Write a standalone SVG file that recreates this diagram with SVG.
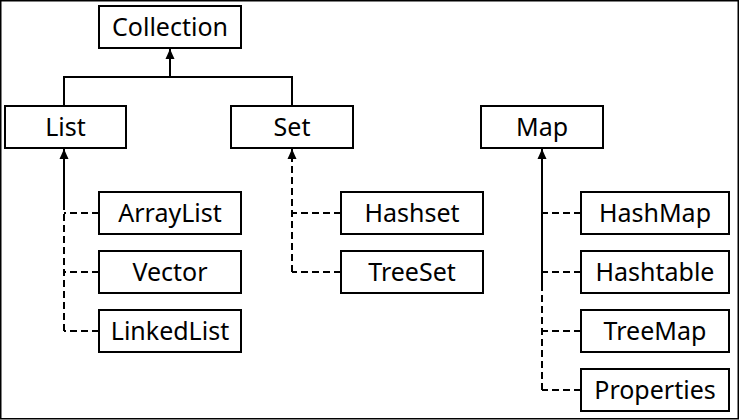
<svg xmlns="http://www.w3.org/2000/svg" width="739" height="420" viewBox="0 0 739 420">
<defs>
<style>
.box{fill:#fff;stroke:#000;stroke-width:2}
.lbl{font-family:"Noto Sans","Open Sans",sans-serif;font-size:25px;fill:#000;text-anchor:middle}
.solid{fill:none;stroke:#000;stroke-width:2}
.dash{fill:none;stroke:#000;stroke-width:2;stroke-dasharray:7 4}
</style>
<marker id="arr" markerWidth="11" markerHeight="10" refX="10" refY="5" orient="auto" markerUnits="userSpaceOnUse">
<path d="M0,0.5 L10,5 L0,9.5 Z" fill="#000"/>
</marker>
</defs>
<rect x="0.75" y="0.75" width="737.5" height="418" fill="#fff" stroke="#000" stroke-width="1.5"/>
<g id="connectors">
<path class="solid" d="M64,106 V77 H170 V49" marker-end="url(#arr)"/>
<path class="solid" d="M292,106 V77 H170"/>
<path class="dash" d="M64,331 V205"/>
<path class="solid" d="M64,205 V149" marker-end="url(#arr)"/>
<path class="dash" d="M99,213 H64"/>
<path class="dash" d="M99,272 H64"/>
<path class="dash" d="M99,331 H64"/>
<path class="dash" d="M292,272 V149" marker-end="url(#arr)"/>
<path class="dash" d="M341,213 H292"/>
<path class="dash" d="M341,272 H292"/>
<path class="dash" d="M542,390 V288"/>
<path class="solid" d="M542,288 V149" marker-end="url(#arr)"/>
<path class="dash" d="M581,213 H542"/>
<path class="dash" d="M581,272 H542"/>
<path class="dash" d="M581,331 H542"/>
<path class="dash" d="M581,390 H542"/>
</g>
<g id="collection"><rect class="box" x="99" y="6" width="142" height="42"/><text class="lbl" x="170" y="36">Collection</text></g>
<g id="list"><rect class="box" x="5" y="106" width="121" height="42"/><text class="lbl" x="65.5" y="136">List</text></g>
<g id="set"><rect class="box" x="231" y="106" width="122" height="42"/><text class="lbl" x="292" y="136">Set</text></g>
<g id="map"><rect class="box" x="481" y="106" width="122" height="42"/><text class="lbl" x="542" y="136">Map</text></g>
<g id="arraylist"><rect class="box" x="99" y="192" width="142" height="42"/><text class="lbl" x="170" y="222">ArrayList</text></g>
<g id="vector"><rect class="box" x="99" y="251" width="142" height="42"/><text class="lbl" x="170" y="281">Vector</text></g>
<g id="linkedlist"><rect class="box" x="99" y="310" width="142" height="42"/><text class="lbl" x="170" y="340">LinkedList</text></g>
<g id="hashset"><rect class="box" x="341" y="192" width="142" height="42"/><text class="lbl" x="412" y="222">Hashset</text></g>
<g id="treeset"><rect class="box" x="341" y="251" width="142" height="42"/><text class="lbl" x="412" y="281">TreeSet</text></g>
<g id="hashmap"><rect class="box" x="581" y="192" width="148" height="42"/><text class="lbl" x="655" y="222">HashMap</text></g>
<g id="hashtable"><rect class="box" x="581" y="251" width="148" height="42"/><text class="lbl" x="655" y="281">Hashtable</text></g>
<g id="treemap"><rect class="box" x="581" y="310" width="148" height="42"/><text class="lbl" x="655" y="340">TreeMap</text></g>
<g id="properties"><rect class="box" x="581" y="369" width="148" height="42"/><text class="lbl" x="655" y="399">Properties</text></g>
</svg>
